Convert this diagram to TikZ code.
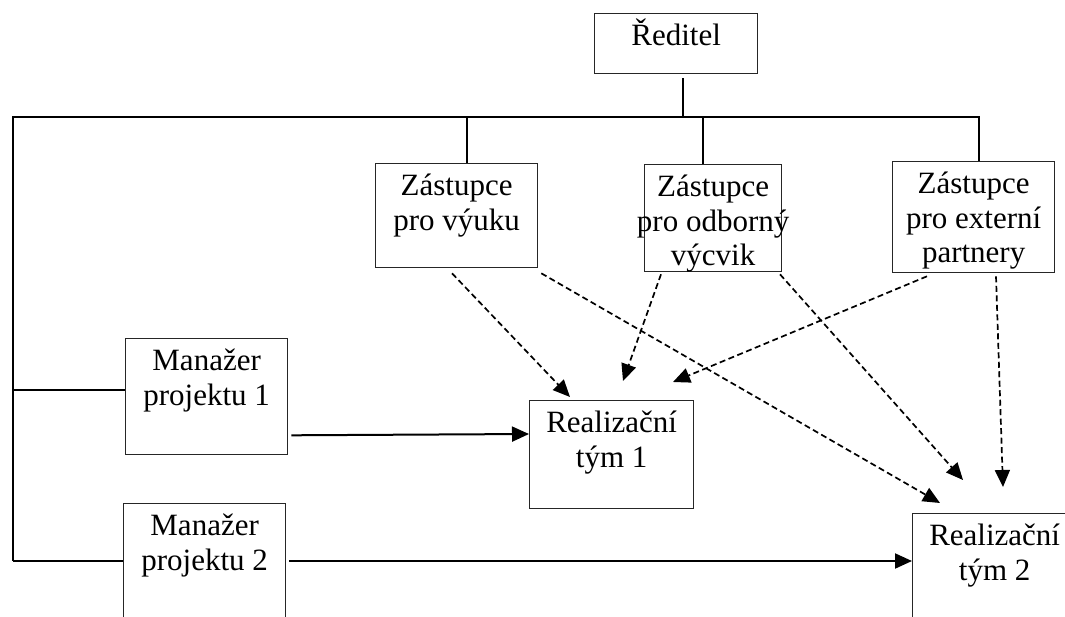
\documentclass[tikz,border=0pt]{standalone}
\usepackage{fontspec}
\setmainfont{Liberation Serif}
\usetikzlibrary{arrows.meta,calc}

% fixed-size box whose lines start at the top
\newcommand{\boxtxt}[3]{\parbox[c][#2][t]{#1}{\centering\rule{0pt}{32pt}#3}}
\newcommand{\wideline}[1]{\makebox[\linewidth]{#1}}

\begin{document}
\begin{tikzpicture}[x=1pt, y=-1pt,
  orgbox/.style={draw=black!85, line width=1.3pt, inner sep=0pt,
    anchor=north west, font=\fontsize{31}{34.5}\selectfont},
  link/.style={line width=2pt},
  solidarrow/.style={link, -{Triangle[length=17pt,width=15pt]}},
  dasharrow/.style={line width=1.7pt, dash pattern=on 6pt off 3.5pt,
    -{Triangle[length=17pt,width=15pt]}}]

\useasboundingbox (0,0) rectangle (1065,616);
\clip (0,0) rectangle (1065,616);

% boxes
\node[orgbox] (dir) at (594,13)  {\boxtxt{163pt}{60pt}{Ředitel}};
\node[orgbox] (z1)  at (375,163) {\boxtxt{162pt}{104pt}{Zástupce\\pro výuku}};
\node[orgbox] (z2)  at (644,164) {\boxtxt{137pt}{107pt}{Zástupce\\\wideline{pro odborný}\\výcvik}};
\node[orgbox] (z3)  at (892,161) {\boxtxt{162pt}{111pt}{Zástupce\\pro externí\\partnery}};
\node[orgbox] (m1)  at (125,338) {\boxtxt{162pt}{116pt}{Manažer\\projektu 1}};
\node[orgbox] (m2)  at (123,503) {\boxtxt{162pt}{116pt}{Manažer\\projektu 2}};
\node[orgbox] (r1)  at (529,400) {\boxtxt{164pt}{108pt}{Realizační\\tým 1}};
\node[orgbox] (r2)  at (912,513) {\boxtxt{164pt}{108pt}{Realizační\\tým 2}};

% bus lines
\coordinate (busL) at (13,117);
\coordinate (busR) at (979,117);
\coordinate (leftB) at (13,561);
\coordinate (leftA) at (13,390);

\draw[link] ($(dir.south)+(7,4)$) -- ($(dir.south)+(7,44)$);
\draw[link] (leftB) -- (busL) -- (busR) -- (busR |- z3.north);
\draw[link] (busL -| 467,0) -- (z1.north -| 467,0);
\draw[link] (busL -| 703,0) -- (z2.north -| 703,0);
\draw[link] (leftA) -- (m1.west |- leftA);
\draw[link] (leftB) -- (m2.west |- leftB);

% managers to teams
\draw[solidarrow] ($(m1.south east)+(3,-20)$) -- (r1.west |- 0,434);
\draw[solidarrow] ($(m2.north east)+(3,58)$) -- (r2.west |- 0,561);

% deputies to teams
\draw[dasharrow] ($(z1.south west)+(77,5)$)  -- ($(r1.north west)+(41,-3)$);
\draw[dasharrow] ($(z1.south east)+(3,5)$)   -- ($(r2.north west)+(28,-10)$);
\draw[dasharrow] ($(z2.south west)+(17,2)$)  -- ($(r1.north west)+(94,-19)$);
\draw[dasharrow] ($(z2.south west)+(136,2)$) -- ($(r2.north west)+(51,-33)$);
\draw[dasharrow] ($(z3.south west)+(35,3)$)  -- ($(r1.north west)+(144,-18)$);
\draw[dasharrow] ($(z3.south west)+(104,3)$) -- ($(r2.north west)+(91,-26)$);
\end{tikzpicture}
\end{document}
